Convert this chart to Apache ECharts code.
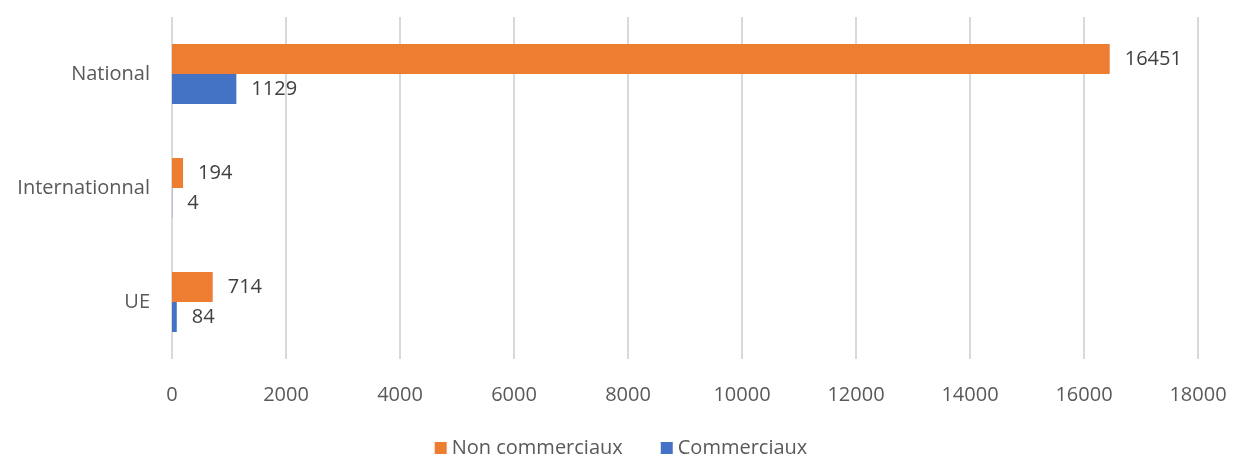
<!DOCTYPE html>
<html><head><meta charset="utf-8">
<script src="https://cdn.jsdelivr.net/npm/echarts@6/dist/echarts.min.js"></script>
<style>html,body{margin:0;padding:0;background:#fff}#c{width:1242px;height:457px}</style>
</head><body><div id="c"></div>
<script>
const categories = ['UE', 'Internationnal', 'National'];
const nonCommerciaux = [714, 194, 16451];
const commerciaux = [84, 4, 1129];
const seriesNames = ['Non commerciaux', 'Commerciaux'];
const FONT = '"Open Sans", sans-serif';
const FS = 20;
const chart = echarts.init(document.getElementById('c'));
const labelCfg = {show: true, position: 'right', distance: 15, color: '#404040', fontSize: FS, fontFamily: FONT};
chart.setOption({
  animation: false,
  grid: {left: 172, right: 44, top: 17, bottom: 98},
  legend: {
    data: seriesNames, top: 433, left: 'center', itemWidth: 12, itemHeight: 12, itemGap: 38,
    icon: 'rect', textStyle: {color: '#595959', fontSize: FS, fontFamily: FONT}
  },
  xAxis: {
    type: 'value', min: 0, max: 18000, interval: 2000,
    axisLine: {show: false}, axisTick: {show: false},
    splitLine: {lineStyle: {color: '#D9D9D9', width: 2}},
    axisLabel: {color: '#595959', fontSize: FS, fontFamily: FONT, margin: 26, formatter: v => String(v)}
  },
  yAxis: {
    type: 'category', data: categories,
    axisLine: {show: false}, axisTick: {show: false},
    axisLabel: {color: '#595959', fontSize: FS, fontFamily: FONT, margin: 22}
  },
  series: [
    {name: 'Non commerciaux', type: 'bar', data: nonCommerciaux, barWidth: 30, barGap: '0%',
     itemStyle: {color: '#ED7D31'}, label: labelCfg},
    {name: 'Commerciaux', type: 'bar', data: commerciaux, barWidth: 30, barGap: '0%',
     itemStyle: {color: '#4472C4'}, label: labelCfg}
  ]
});
</script></body></html>
